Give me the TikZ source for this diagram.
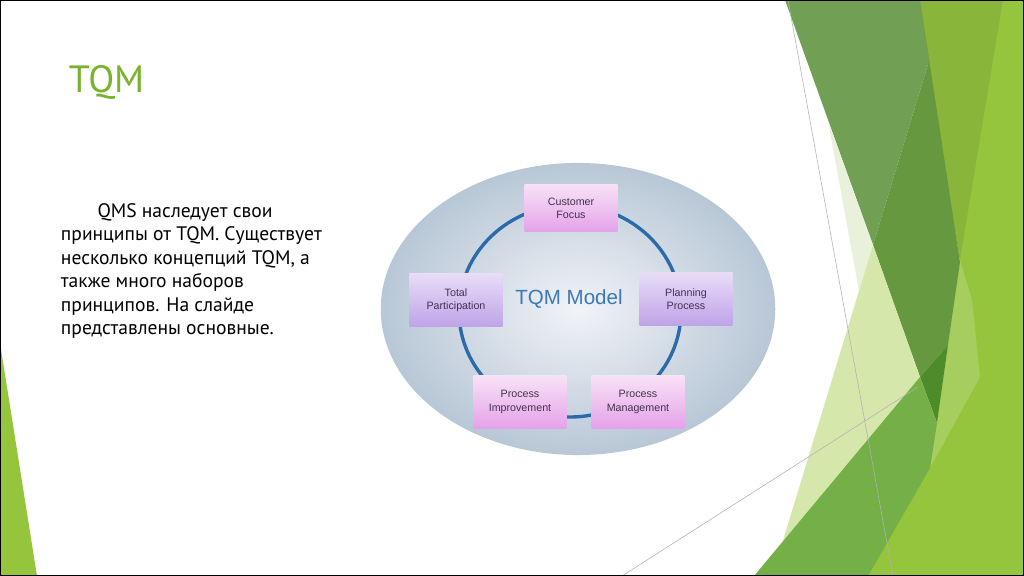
\documentclass[tikz,border=0pt]{standalone}
\usepackage{fontspec}
\setmainfont{PT Sans}
\newfontfamily\boxfont{Liberation Sans}
\definecolor{titlegreen}{HTML}{78B22E}
\definecolor{olive}{HTML}{88B53A}
\definecolor{lime}{HTML}{95C53C}
\definecolor{lightlime}{HTML}{A6CE5E}
\definecolor{darkgreen}{HTML}{71A055}
\definecolor{deepgreen}{HTML}{66983F}
\definecolor{darkestgreen}{HTML}{4E8C2A}
\definecolor{palegreen}{HTML}{D6E7AB}
\definecolor{verypale}{HTML}{E9F1DA}
\definecolor{midgreen}{HTML}{74AF48}
\definecolor{ovalin}{HTML}{F1F3F7}
\definecolor{ovalout}{HTML}{B8C7D6}
\definecolor{ringblue}{HTML}{2C6AAA}
\definecolor{modelblue}{HTML}{3C78B8}
\definecolor{pinktop}{HTML}{F8E2F6}
\definecolor{pinkbot}{HTML}{E4A2EA}
\definecolor{liltop}{HTML}{E8DDF8}
\definecolor{lilbot}{HTML}{BFA3E8}
\definecolor{boxtext}{HTML}{43304F}
\begin{document}
\begin{tikzpicture}[x=0.025cm, y=-0.025cm,
  box/.style={minimum width=2.32cm, minimum height=1.32cm, inner sep=1pt, align=center,
    font=\boxfont\fontsize{7.6}{9.4}\selectfont, text=boxtext},
  pinkbox/.style={box, top color=pinktop, bottom color=pinkbot},
  lilacbox/.style={box, top color=liltop, bottom color=lilbot},
  thinline/.style={draw=gray!60, line width=0.4pt}]
\useasboundingbox (0,0) rectangle (1024,576);
\fill[white] (0,0) rectangle (1024,576);

%green facets on the right
\fill[olive] (918,0) -- (1010,0) -- (960,262) -- cycle;
\fill[lime] (1003,0) -- (1024,0) -- (1024,576) -- (868,576) -- (937,423) -- (948,345) -- (960,260) -- cycle;
\fill[lightlime] (960,260) -- (972,300) -- (980,377) -- (930,468) -- (937,423) -- (948,345) -- cycle;
\fill[darkgreen] (785,0) -- (920,0) -- (929,61) -- (873,245) -- cycle;
\fill[deepgreen] (929,61) -- (920,0) -- (960,262) -- (948,345) -- (920,377) -- (873,245) -- cycle;
\fill[darkestgreen] (948,345) -- (920,377) -- (937,423) -- cycle;
\fill[verypale] (828,121) -- (873,245) -- (859,291) -- cycle;
\fill[palegreen] (873,245) -- (920,377) -- (781,547) -- cycle;
\fill[midgreen] (920,377) -- (937,423) -- (930,468) -- (868,576) -- (754,576) -- cycle;
%facet on the left
\fill[lime] (0,343) -- (37,576) -- (0,576) -- cycle;
%thin lines
\draw[thinline] (788,0) -- (893,576);
\draw[thinline] (622,576) -- (918,387);

%title and text
\node[anchor=base west, text=titlegreen, font=\fontsize{27}{30}\selectfont] (title) at (64,93) {TQM};
\node[anchor=base west, align=left, font=\fontsize{13.9}{16.7}\selectfont] (body) at (56,334.5)
  {\hspace*{26pt}QMS наследует свои\\
   принципы от TQM. Существует\\
   несколько концепций TQM, а\\
   также много наборов\\
   принципов. На слайде\\
   представлены основные.};

%TQM model
\shade[inner color=ovalin, outer color=ovalout] (578,309) ellipse [x radius=4.93cm, y radius=3.65cm];
\draw[ringblue, line width=2.4pt] (570,311) ellipse [x radius=2.775cm, y radius=2.65cm];
\node[text=modelblue, font=\boxfont\fontsize{14.6}{16}\selectfont] (model) at (569,299) {TQM Model};
\node[pinkbox, minimum height=1.18cm] (focus) at (571,208) {Customer\\Focus};
\node[lilacbox] (total) at (456,300) {Total\\Participation};
\node[lilacbox] (planning) at (686,299) {Planning\\Process};
\node[pinkbox] (improve) at (520,402) {Process\\Improvement};
\node[pinkbox] (manage) at (638,402) {Process\\Management};

%frame
\draw[black, line width=1.4pt] (0.5,0.5) rectangle (1023.5,575.5);
\end{tikzpicture}
\end{document}
